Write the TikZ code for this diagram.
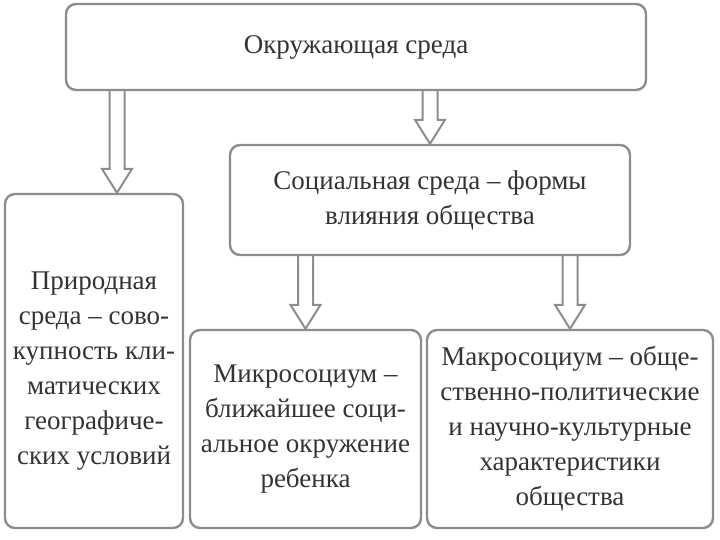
\documentclass[tikz,border=0pt]{standalone}
\usepackage{fontspec}
\setmainfont{Liberation Serif}
\usepackage{xcolor}
\usepackage{tikz}
\usetikzlibrary{positioning,calc}
\definecolor{framegray}{HTML}{8C8C8C}
\definecolor{textgray}{HTML}{333333}
% hollow block arrow from #1 down to #2
\newcommand{\hollowarrow}[2]{%
  \draw[arrowline] let \p1=(#1), \p2=(#2) in
    (\x1-7.5pt,\y1) -- (\x1-7.5pt,\y2+24pt) -- (\x1-15pt,\y2+24pt) -- (\x1,\y2)
    -- (\x1+15pt,\y2+24pt) -- (\x1+7.5pt,\y2+24pt) -- (\x1+7.5pt,\y1);}

\begin{document}
\begin{tikzpicture}[x=1pt, y=-1pt,
    box/.style={draw=framegray, line width=2.4pt, rounded corners=10pt, inner sep=0pt,
      align=center, text=textgray, font=\fontsize{27}{35}\selectfont},
    arrowline/.style={draw=framegray, line width=2pt, line join=miter}]
    \useasboundingbox (0,0) rectangle (720,540);

    % Top level
    \node[box, minimum width=580pt, minimum height=86pt] (env) at (356,47) {Окружающая среда};

    % Second level
    \node[box, minimum width=400pt, minimum height=110pt] (social) at (430,200)
      {Социальная среда – формы\\влияния общества};
    \node[box, minimum width=178pt, minimum height=334pt] (nature) at (94,361)
      {\strut\\[-21pt]Природная\\среда – сово-\\купность кли-\\матических\\географиче-\\ских условий};

    % Third level
    \node[box, minimum width=231pt, minimum height=198pt] (micro) at (305.5,429)
      {Микросоциум –\\ближайшее соци-\\альное окружение\\ребенка};
    \node[box, minimum width=286pt, minimum height=198pt] (macro) at (570,429)
      {Макросоциум – обще-\\ственно-политические\\и научно-культурные\\характеристики\\общества};

    % Arrows
    \coordinate (natTip) at ($(nature.north)+(23,0)$);
    \hollowarrow{env.south -| natTip}{natTip}
    \hollowarrow{env.south -| social.north}{social.north}
    \hollowarrow{social.south -| micro.north}{micro.north}
    \hollowarrow{social.south -| macro.north}{macro.north}

\end{tikzpicture}
\end{document}
